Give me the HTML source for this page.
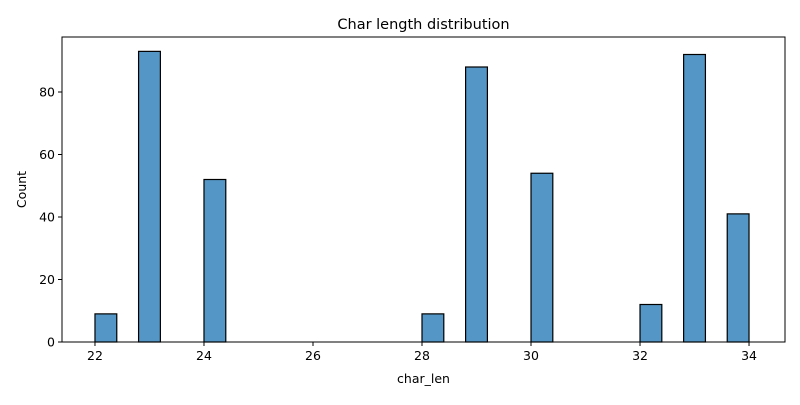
<!DOCTYPE html>
<html><head><meta charset="utf-8"><style>
body{margin:0;background:#fff;font-family:"Liberation Sans","DejaVu Sans",sans-serif}
text{font-family:"DejaVu Sans","Liberation Sans",sans-serif}
</style></head><body>
<svg id="c" width="800" height="400" viewBox="0 0 800 400"></svg>
<script>
const binStarts=[22,22.8,24.0,28.0,28.8,30.0,32.0,32.8,33.6];
const counts=[9,93,52,9,88,54,12,92,41];
const xTicks=[22,24,26,28,30,32,34];
const yTicks=[0,20,40,60,80];
const binWidth=0.4;
const L=62,R=785,T=37,B=342;
const xMin=21.395,xMax=34.66,yMin=0,yMax=97.6;
const x=v=>L+(v-xMin)/(xMax-xMin)*(R-L);
const y=v=>B-(v-yMin)/(yMax-yMin)*(B-T);
const svg=document.getElementById('c');
const NS='http://www.w3.org/2000/svg';
function mk(t,a,p){const e=document.createElementNS(NS,t);for(const k in a)e.setAttribute(k,a[k]);(p||svg).appendChild(e);return e;}
const g=mk('g',{});


for(let i=0;i<30;i++){
  const s=22+i*binWidth;
  const idx=binStarts.findIndex(b=>Math.abs(b-s)<1e-6);
  const c=idx>=0?counts[idx]:0;
  const r=mk('rect',{x:x(s),y:y(c),width:x(s+binWidth)-x(s),height:y(0)-y(c),fill:'#5497c6',stroke:'#000','stroke-width':1.2},g);
  
  
}
const ax=mk('rect',{x:L,y:T,width:R-L,height:B-T,fill:'none',stroke:'#000','stroke-width':1});


xTicks.forEach(t=>{
  mk('line',{x1:x(t),x2:x(t),y1:B,y2:B+4,stroke:'#000'});
  const tx=mk('text',{x:x(t),y:B+18,'text-anchor':'middle','font-size':12.5});
  tx.textContent=t;
  
  
});
yTicks.forEach(t=>{
  mk('line',{x1:L-4,x2:L,y1:y(t),y2:y(t),stroke:'#000'});
  const tx=mk('text',{x:L-7,y:y(t)+4.5,'text-anchor':'end','font-size':12.5});
  tx.textContent=t;
  
  
});
const xt=mk('text',{x:(L+R)/2,y:383,'text-anchor':'middle','font-size':12.5});
xt.textContent='char_len';


const yt=mk('text',{x:26,y:(T+B)/2,'text-anchor':'middle','font-size':12.5,transform:`rotate(-90 26 ${(T+B)/2})`});
yt.textContent='Count';


const ti=mk('text',{x:(L+R)/2,y:29,'text-anchor':'middle','font-size':14.5});
ti.textContent='Char length distribution';


</script>
</body></html>
